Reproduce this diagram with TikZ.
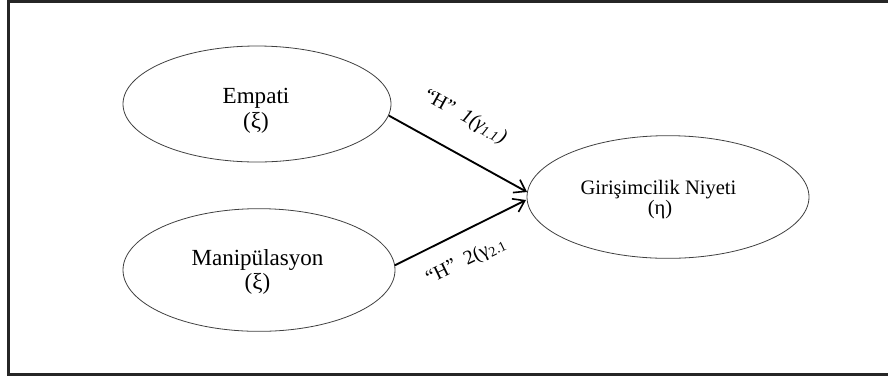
\documentclass[tikz,border=0pt]{standalone}
\usepackage{fontspec}
\setmainfont{Liberation Serif}
\usetikzlibrary{shapes.geometric,arrows.meta}
\begin{document}
\begin{tikzpicture}[x=0.75pt,y=-0.75pt,
  lat/.style={ellipse,draw=black!75,line width=0.6pt,inner sep=0pt},
  big/.style={inner sep=0pt,anchor=base,font=\fontsize{17.3}{19}\selectfont},
  mid/.style={inner sep=0pt,anchor=base,font=\fontsize{15.4}{16}\selectfont},
  hyp/.style={inner sep=0pt,font=\fontsize{15}{15}\selectfont},
  arr/.style={line width=1.4pt,-{Straight Barb[length=8pt,width=11pt,line width=1.2pt]}},
  frameline/.style={line width=2pt,draw=black!85}
]
\useasboundingbox (0,0) rectangle (888,376);
\draw[frameline] (888,1.5) -- (8.5,1.5) -- (8.5,374.5) -- (888,374.5);

\node[lat,minimum width=201pt,minimum height=87pt] (emp) at (257,104) {};
\node[lat,minimum width=204pt,minimum height=92pt] (man) at (259,270) {};
\node[lat,minimum width=211.5pt,minimum height=92pt] (gir) at (668,197) {};

\node[big] (empt) at (256,103) {Empati};
\node[big] (empx) at (256,128) {(ξ)};
\node[big] (mant) at (257.5,265) {Manipülasyon};
\node[big] (manx) at (257.5,289) {(ξ)};
\node[mid] (girt) at (658.5,194) {Girişimcilik Niyeti};
\node[mid] (girx) at (660,214) {(η)};

\coordinate (t1) at (527,192);
\coordinate (t2) at (526,200);
\draw[arr] (emp.-5) -- (t1);
\draw[arr] (man.2) -- (t2);

\node[hyp,rotate=-29] (h1) at (465,117) {“H”\ \ \textit{1(γ\textsubscript{1.1})}};
\node[hyp,rotate=26] (h2) at (466,261) {“H”\ \ 2(γ\textsubscript{2.1}};
\end{tikzpicture}
\end{document}
